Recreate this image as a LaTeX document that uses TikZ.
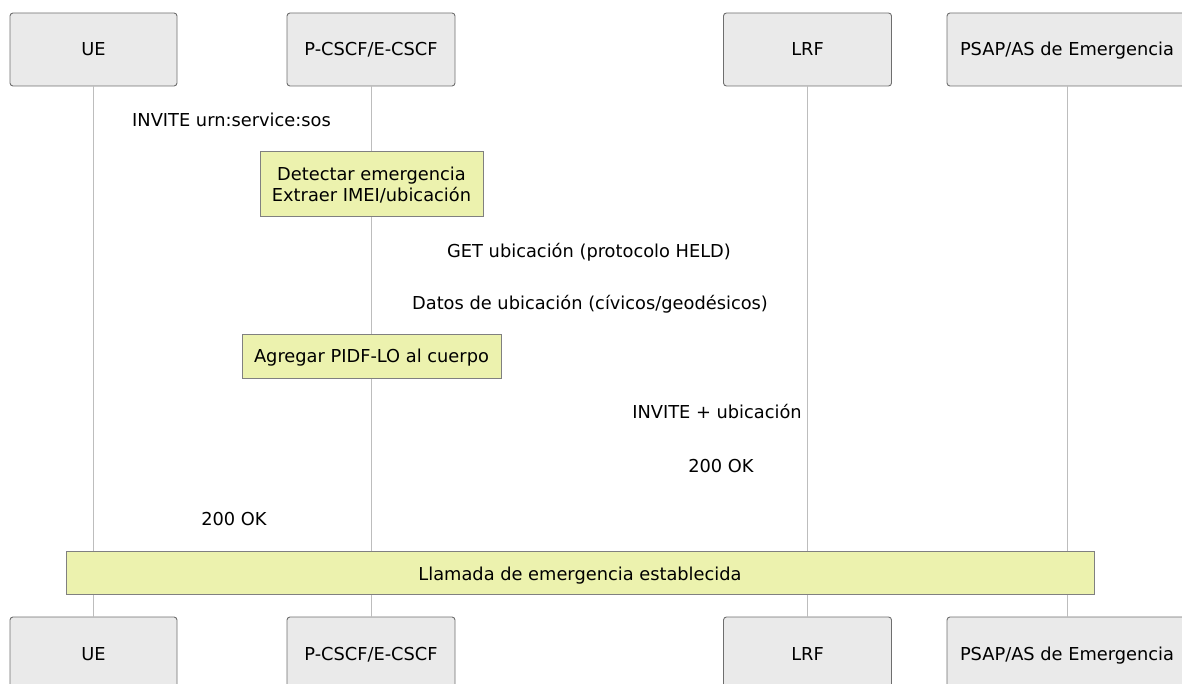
\documentclass[tikz,border=0pt]{standalone}
\usepackage{fontspec}
\setmainfont{DejaVu Sans}
\definecolor{actfill}{HTML}{EAEAEA}
\definecolor{actdraw}{HTML}{6E6E6E}
\definecolor{notefill}{HTML}{ECF2AE}
\definecolor{notedraw}{HTML}{808080}
\definecolor{lifeline}{HTML}{BDBDBD}
\tikzset{
  actor/.style={draw=actdraw, fill=actfill, rounded corners=3pt, line width=0.9pt, minimum height=73pt, inner sep=0pt, text height=15pt, text depth=2pt, font=\fontsize{17.8}{21}\selectfont},
  notebox/.style={draw=notedraw, fill=notefill, line width=0.9pt, inner sep=0pt, font=\fontsize{17.8}{21.5}\selectfont},
  msg/.style={font=\fontsize{17.8}{21}\selectfont, inner sep=0pt, text height=15pt, text depth=2pt},
  life/.style={draw=lifeline, line width=0.9pt}
}
\newcommand{\dropby}[2]{\raisebox{-#1}[\height][\depth]{#2}}
\begin{document}
\begin{tikzpicture}[x=1pt,y=-1pt]
\useasboundingbox (0,0) rectangle (1182,684);
\clip (0,0) rectangle (1182,684);
% top actors
\node[actor, minimum width=167pt] (ue) at (93.5,49.5) {UE};
\node[actor, minimum width=168pt] (pc) at (371,49.5) {P-CSCF/E-CSCF};
\node[actor, minimum width=168pt] (lrf) at (807.5,49.5) {LRF};
\node[actor, minimum width=240pt] (ps) at (1067,49.5) {PSAP/AS de Emergencia};
% bottom actors
\node[actor, minimum width=167pt] (ueb) at (93.5,653.5) {UE};
\node[actor, minimum width=168pt] (pcb) at (371,653.5) {P-CSCF/E-CSCF};
\node[actor, minimum width=168pt] (lrfb) at (807.5,653.5) {LRF};
\node[actor, minimum width=240pt] (psb) at (1067,653.5) {PSAP/AS de Emergencia};
% lifelines
\draw[life] (ue.south) -- (ueb.north);
\draw[life] (pc.south) -- (pcb.north);
\draw[life] (lrf.south) -- (lrfb.north);
\draw[life] (ps.south) -- (psb.north);
% messages
\node[msg] (m1) at (231.5,120) {INVITE urn:service:sos};
\node[notebox, minimum width=223pt, minimum height=65pt] (n1) at (371.5,183.5) {\dropby{3pt}{\begin{tabular}{@{}c@{}}Detectar emergencia\\Extraer IMEI/ubicación\end{tabular}}};
\node[msg] (m2) at (589,251) {GET ubicación (protocolo HELD)};
\node[msg] (m3) at (590,303) {Datos de ubicación (cívicos/geodésicos)};
\node[notebox, minimum width=259pt, minimum height=44pt, text height=15pt, text depth=2pt] (n2) at (371.5,356.3) {Agregar PIDF-LO al cuerpo};
\node[msg] (m4) at (717,412) {INVITE + ubicación};
\node[msg] (m5) at (721,466) {200 OK};
\node[msg] (m6) at (234,519) {200 OK};
\node[notebox, minimum width=1028pt, minimum height=43pt, text height=16pt, text depth=1pt] (n3) at (580,572.5) {Llamada de emergencia establecida};
\end{tikzpicture}
\end{document}
